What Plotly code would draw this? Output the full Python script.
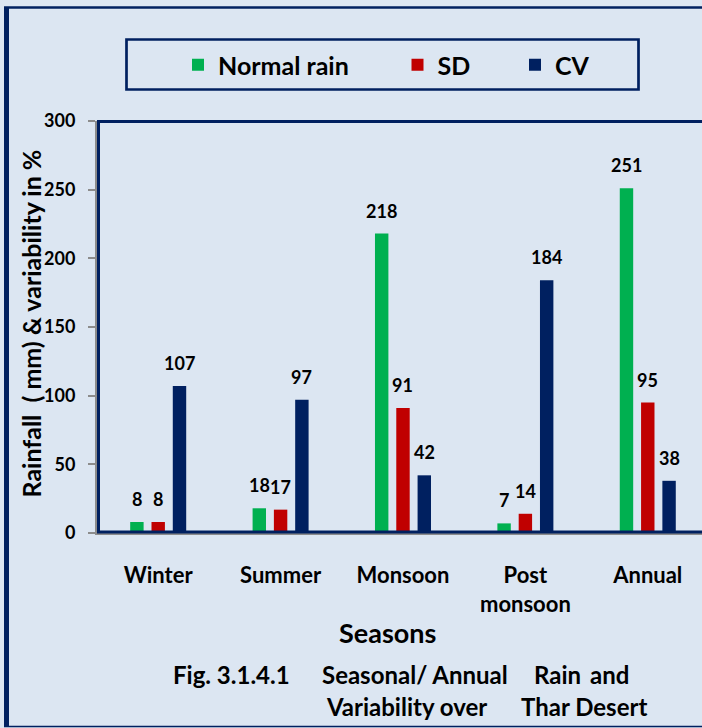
import plotly.graph_objects as go

# ---- data -------------------------------------------------------------
seasons = ["Winter", "Summer", "Monsoon", "Post<br>monsoon", "Annual"]
normal_rain = [8, 18, 218, 7, 251]
sd = [8, 17, 91, 14, 95]
cv = [107, 97, 42, 184, 38]
series_names = ["Normal rain", "SD", "CV"]
y_ticks = [0, 50, 100, 150, 200, 250, 300]

# ---- styling / layout constants ----------------------------------------
COLORS = ["#00b050", "#c00000", "#002060"]
NAVY = "#002060"
GREY = "#8c8c8c"
BG = "#dce6f2"
FONT = "Lato, 'Open Sans', sans-serif"

W, H = 702, 728
ML, MR, MT, MB = 97, 0, 121, 195
PW, PH = W - ML - MR, H - MT - MB
X_RANGE = [-0.5, 4.443]
BARGAP, BARGROUPGAP = 0.478, 0.37


def px(x):
    """pixel x -> paper x"""
    return (x - ML) / PW


def py(y):
    """pixel y (from top) -> paper y"""
    return (H - MB - y) / PH


def bold(size, color="#000000"):
    return dict(family=FONT, size=size, color=color, weight="bold")


fig = go.Figure()
legend_ids = ["legend", "legend2", "legend3"]
for name, vals, col, lg in zip(series_names, [normal_rain, sd, cv], COLORS, legend_ids):
    fig.add_trace(go.Bar(x=seasons, y=vals, name=name, marker=dict(color=col, line=dict(width=0)),
                         legend=lg))

# value labels above each bar
cat_px = PW / (X_RANGE[1] - X_RANGE[0])
slot_px = (1 - BARGAP) / 3 * cat_px
annotations = []
for i, vals in enumerate([normal_rain, sd, cv]):
    for s, v in zip(seasons, vals):
        annotations.append(dict(x=s, y=v, xref="x", yref="y", text=str(v), showarrow=False,
                                xanchor="center", yanchor="middle",
                                xshift=(i - 1) * slot_px, yshift=23, font=bold(18)))

# axis title (vertical)
annotations.append(dict(x=px(30), y=py(323.5), xref="paper", yref="paper", showarrow=False,
                        xanchor="center", yanchor="middle",
                        text="Rainfall\u00a0\u00a0(\u00a0mm) & variability in %", textangle=-90,
                        font=bold(25)))
# x axis title
annotations.append(dict(x=px(387.5), y=py(632), xref="paper", yref="paper", showarrow=False,
                        xanchor="center", yanchor="middle", text="Seasons", font=bold(27)))
# caption lines
caption = [("Fig. 3.1.4.1", 170.5, 674), ("Seasonal/ Annual", 320, 674), ("Rain", 532, 674),
           ("and", 588, 674), ("Variability over", 324, 706), ("Thar Desert", 519, 706)]
for txt, x0, yc in caption:
    annotations.append(dict(x=px(x0), y=py(yc), xref="paper", yref="paper", showarrow=False,
                            xanchor="left", yanchor="middle", text=txt, font=bold(24)))

shapes = [
    # plot-area frame
    dict(type="rect", xref="paper", yref="paper", x0=px(98.5), x1=px(720), y0=py(121.5), y1=py(532),
         line=dict(color=NAVY, width=3), layer="above"),
    # legend box
    dict(type="rect", xref="paper", yref="paper", x0=px(126.5), x1=px(638.5), y0=py(89.5), y1=py(39.5),
         line=dict(color=NAVY, width=2.7)),
    # outer frame
    dict(type="line", xref="paper", yref="paper", x0=px(6.5), x1=px(6.5), y0=py(7), y1=py(727),
         line=dict(color=NAVY, width=5)),
    dict(type="line", xref="paper", yref="paper", x0=px(4), x1=px(710), y0=py(7.5), y1=py(7.5),
         line=dict(color=NAVY, width=2.5)),
    dict(type="line", xref="paper", yref="paper", x0=px(4), x1=px(710), y0=py(726.5), y1=py(726.5),
         line=dict(color=NAVY, width=1.5)),
]

legend_style = dict(orientation="h", xanchor="left", yanchor="middle", bgcolor="rgba(0,0,0,0)",
                    borderwidth=0, font=bold(25))

fig.update_layout(
    width=W, height=H,
    margin=dict(l=ML, r=MR, t=MT, b=MB, pad=0),
    paper_bgcolor=BG, plot_bgcolor=BG,
    barmode="group", bargap=BARGAP, bargroupgap=BARGROUPGAP,
    showlegend=True,
    legend=dict(x=px(178), y=py(65), **legend_style),
    legend2=dict(x=px(397.5), y=py(65), **legend_style),
    legend3=dict(x=px(515), y=py(65), **legend_style),
    xaxis=dict(type="category", range=X_RANGE, showline=True, linecolor=GREY, linewidth=2,
               ticks="", showgrid=False, zeroline=False, tickfont=bold(22), ticklabelstandoff=22,
               fixedrange=True),
    yaxis=dict(range=[0, 300], tickvals=y_ticks, showline=True, linecolor=GREY, linewidth=2,
               ticks="outside", ticklen=7, tickwidth=2, tickcolor=GREY, showgrid=False,
               zeroline=False, tickfont=bold(18), ticklabelstandoff=9, fixedrange=True),
    annotations=annotations,
    shapes=shapes,
)

fig.write_html("out.html", config={"displayModeBar": False})
